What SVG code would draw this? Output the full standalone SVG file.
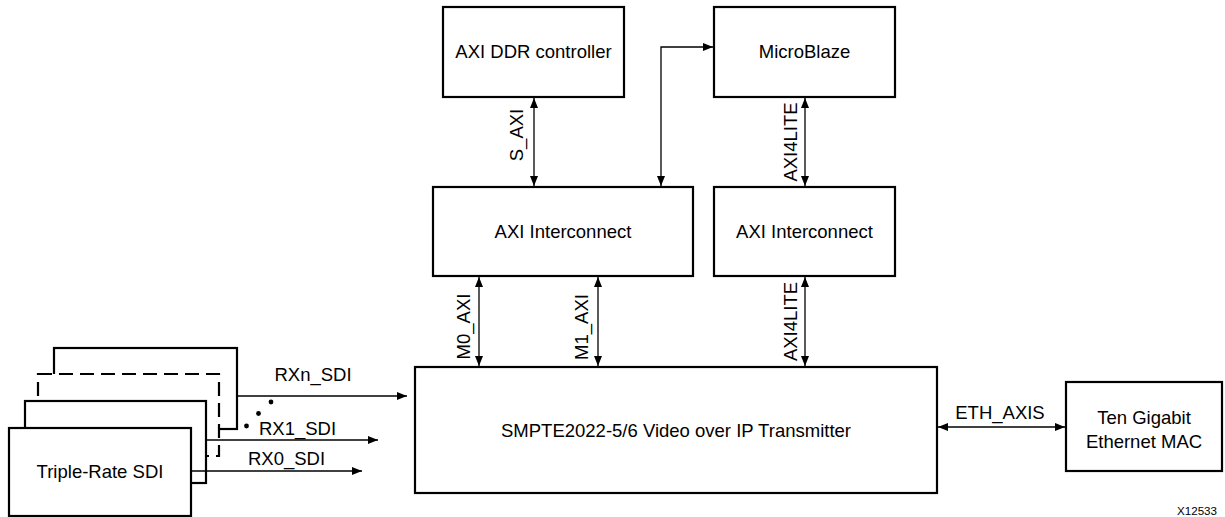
<svg xmlns="http://www.w3.org/2000/svg" width="1225" height="517" viewBox="0 0 1225 517">
<defs>
<marker id="ah" viewBox="0 0 10 8" refX="10" refY="4" markerWidth="10" markerHeight="8" markerUnits="userSpaceOnUse" orient="auto-start-reverse">
<path d="M0,0 L10,4 L0,8 Z" fill="#000"/>
</marker>
<style>
.box{fill:#fff;stroke:#000;stroke-width:2.2}
.dash{fill:#fff;stroke:#000;stroke-width:2.2;stroke-dasharray:14 7}
.t{font-family:"Liberation Sans",Arial,sans-serif;font-size:18.5px;fill:#000;text-anchor:middle}
.c{fill:none;stroke:#000;stroke-width:1.3}
.a{marker-end:url(#ah)}
.b{marker-start:url(#ah);marker-end:url(#ah)}
</style>
</defs>
<rect width="1225" height="517" fill="#fff"/>

<g id="ddr">
<rect class="box" x="443" y="7" width="181" height="90"/>
<text class="t" x="533.5" y="58">AXI DDR controller</text>
</g>
<g id="microblaze">
<rect class="box" x="714" y="7" width="181" height="90"/>
<text class="t" x="804.5" y="58">MicroBlaze</text>
</g>
<g id="interconnect1">
<rect class="box" x="433" y="187" width="260" height="89"/>
<text class="t" x="563" y="238">AXI Interconnect</text>
</g>
<g id="interconnect2">
<rect class="box" x="714" y="187" width="181" height="89"/>
<text class="t" x="804.5" y="238">AXI Interconnect</text>
</g>
<g id="smpte">
<rect class="box" x="415" y="367" width="522" height="126"/>
<text class="t" x="676" y="437">SMPTE2022-5/6 Video over IP Transmitter</text>
</g>
<g id="mac">
<rect class="box" x="1066" y="382" width="156" height="89"/>
<text class="t" x="1144" y="424">Ten Gigabit</text>
<text class="t" x="1144" y="448">Ethernet MAC</text>
</g>
<g id="sdi">
<rect class="box" x="54" y="348" width="183" height="81"/>
<rect class="dash" x="38" y="374" width="181" height="82"/>
<rect class="box" x="25" y="401" width="181" height="82"/>
<rect class="box" x="9" y="428" width="182" height="88"/>
<text class="t" x="100" y="478">Triple-Rate SDI</text>
</g>

<g id="connectors">
<line class="c b" x1="534" y1="98" x2="534" y2="186"/>
<polyline class="c b" points="661,186 661,47 713,47"/>
<line class="c b" x1="805" y1="98" x2="805" y2="186"/>
<line class="c b" x1="479" y1="277" x2="479" y2="366"/>
<line class="c b" x1="598" y1="277" x2="598" y2="366"/>
<line class="c b" x1="805" y1="277" x2="805" y2="366"/>
<line class="c b" x1="938" y1="427" x2="1065" y2="427"/>
<line class="c a" x1="237" y1="396" x2="407" y2="396"/>
<line class="c a" x1="206" y1="440" x2="378" y2="440"/>
<line class="c a" x1="191" y1="471" x2="362" y2="471"/>
<circle cx="271" cy="402" r="2.4" fill="#000"/>
<circle cx="258.5" cy="413.5" r="2.4" fill="#000"/>
<circle cx="246.5" cy="426" r="2.4" fill="#000"/>
<text class="t" x="523" y="135" transform="rotate(-90 523 135)">S_AXI</text>
<text class="t" x="797" y="142" transform="rotate(-90 797 142)">AXI4LITE</text>
<text class="t" x="470" y="326.5" transform="rotate(-90 470 326.5)">M0_AXI</text>
<text class="t" x="588" y="327" transform="rotate(-90 588 327)">M1_AXI</text>
<text class="t" x="797" y="321.5" transform="rotate(-90 797 321.5)">AXI4LITE</text>
<text class="t" x="1000" y="419">ETH_AXIS</text>
<text class="t" x="313" y="381">RXn_SDI</text>
<text class="t" x="297.5" y="435">RX1_SDI</text>
<text class="t" x="286.5" y="465">RX0_SDI</text>
</g>
<text x="1217" y="515" font-family="Liberation Sans, Arial, sans-serif" font-size="11.6" text-anchor="end">X12533</text>
</svg>
